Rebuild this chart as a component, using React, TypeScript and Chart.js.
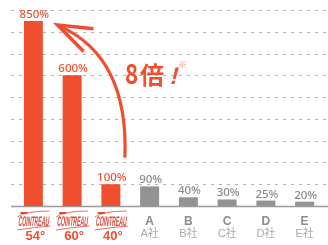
import React, { useEffect, useRef } from "react";
import { Chart, registerables } from "chart.js";

Chart.register(...registerables);

const categories = ["54°", "60°", "40°", "A", "B", "C", "D", "E"];
const subLabels = ["", "", "", "A社", "B社", "C社", "D社", "E社"];
const isBrand = [true, true, true, false, false, false, false, false];
const values = [850, 600, 100, 90, 40, 30, 25, 20];
const valueLabels = ["850%", "600%", "100%", "90%", "40%", "30%", "25%", "20%"];
const gridTicks = [100, 200, 300, 400, 500, 600, 700, 800, 900];
const callout = "8倍";

const ORANGE = "#f04f2f";
const GRAY_BAR = "#939393";
const GRAY_TEXT = "#8c8c8c";
const GRAY_LIGHT = "#aaaaaa";
const FONT = "'Liberation Sans', 'Noto Sans CJK JP', sans-serif";

const decor = {
  id: "decor",
  beforeDatasetsDraw(chart: any) {
    const { ctx, scales } = chart;
    const y = scales.y;
    const ca = chart.chartArea;
    ctx.save();
    ctx.strokeStyle = "#b5b5b5";
    ctx.lineWidth = 1.2;
    ctx.setLineDash([3, 5]);
    for (const t of gridTicks) {
      const py = Math.round(y.getPixelForValue(t)) + 0.5;
      ctx.beginPath();
      ctx.moveTo(ca.left - 3, py);
      ctx.lineTo(chart.width, py);
      ctx.stroke();
    }
    ctx.setLineDash([]);
    ctx.strokeStyle = "#9a9a9a";
    ctx.lineWidth = 1.5;
    const by = y.getPixelForValue(0) + 0.5;
    ctx.beginPath();
    ctx.moveTo(ca.left - 3, by);
    ctx.lineTo(chart.width, by);
    ctx.stroke();
    ctx.restore();
  },
  afterDatasetsDraw(chart: any) {
    const { ctx, scales } = chart;
    const x = scales.x;
    const y = scales.y;
    const meta = chart.getDatasetMeta(0);
    ctx.save();
    // value labels
    ctx.textAlign = "center";
    ctx.textBaseline = "alphabetic";
    ctx.font = `500 11.5px 'Noto Sans', ${FONT}`;
    meta.data.forEach((bar: any, i: number) => {
      ctx.fillStyle = isBrand[i] ? ORANGE : GRAY_TEXT;
      ctx.fillText(valueLabels[i], bar.x + 1, bar.y - 3);
    });
    // x labels
    const base = y.getPixelForValue(0);
    categories.forEach((c, i) => {
      const cx = x.getPixelForValue(i);
      if (isBrand[i]) {
        // logo
        ctx.save();
        ctx.translate(cx, base + 20);
        ctx.transform(1, 0, -0.12, 1, 0, 0);
        ctx.font = `bold 9px ${FONT}`;
        const w = ctx.measureText("COINTREAU").width;
        ctx.scale(31 / w, 1.55);
        ctx.fillStyle = "#e0483a";
        ctx.textAlign = "center";
        ctx.textBaseline = "alphabetic";
        ctx.fillText("COINTREAU", 0, 0);
        ctx.restore();
        ctx.save();
        ctx.strokeStyle = "#e0483a";
        ctx.lineWidth = 0.8;
        ctx.beginPath();
        ctx.moveTo(cx - 16, base + 11);
        ctx.quadraticCurveTo(cx - 8, base + 5, cx + 16, base + 5);
        ctx.stroke();
        ctx.beginPath();
        ctx.moveTo(cx - 16, base + 24);
        ctx.quadraticCurveTo(cx + 2, base + 21, cx + 17, base + 20);
        ctx.stroke();
        ctx.fillStyle = "#e0483a";
        ctx.fillRect(cx - 13, base + 6, 7, 2);
        ctx.restore();
        ctx.fillStyle = ORANGE;
        ctx.font = `bold 13px ${FONT}`;
        ctx.textAlign = "center";
        ctx.fillText(c, cx + 2, base + 34);
      } else {
        ctx.fillStyle = GRAY_TEXT;
        ctx.font = `bold 12px ${FONT}`;
        ctx.textAlign = "center";
        ctx.fillText(c, cx, base + 19);
        ctx.fillStyle = GRAY_LIGHT;
        ctx.font = `11px ${FONT}`;
        ctx.fillText(subLabels[i], cx, base + 31);
      }
    });
    // arrow
    const x0 = x.getPixelForValue(0);
    const x2 = x.getPixelForValue(2);
    const sx = x2 + 14, sy = y.getPixelForValue(222);
    const qx = x2 + 18, qy = y.getPixelForValue(680);
    const ex = x0 + 27, ey = y.getPixelForValue(825);
    ctx.strokeStyle = ORANGE;
    ctx.lineWidth = 3.2;
    ctx.lineCap = "butt";
    ctx.beginPath();
    ctx.moveTo(sx, sy);
    ctx.quadraticCurveTo(qx, qy, ex, ey);
    ctx.stroke();
    const ang = Math.atan2(ey - qy, ex - qx);
    const back = ang + Math.PI;
    const tx = ex - 3 * Math.cos(back), ty = ey - 3 * Math.sin(back);
    ctx.lineWidth = 3.6;
    ctx.beginPath();
    ctx.moveTo(tx + 36 * Math.cos(back - 0.33), ty + 36 * Math.sin(back - 0.33));
    ctx.lineTo(tx, ty);
    ctx.lineTo(tx + 37 * Math.cos(back + 0.36), ty + 37 * Math.sin(back + 0.36));
    ctx.stroke();
    // callout text
    const txx = x2 + 14;
    const tyy = y.getPixelForValue(560);
    ctx.fillStyle = ORANGE;
    ctx.textAlign = "left";
    ctx.textBaseline = "alphabetic";
    ctx.save();
    ctx.translate(txx, tyy);
    ctx.scale(0.8, 1);
    ctx.font = `bold 28px 'Noto Sans CJK JP', sans-serif`;
    ctx.fillText(callout[0], 0, 0);
    const w8 = ctx.measureText(callout[0]).width;
    ctx.restore();
    ctx.font = `bold 24px 'Noto Sans CJK JP', sans-serif`;
    const bx = txx + w8 * 0.8 + 2;
    ctx.fillText(callout[1], bx, tyy);
    const wb = ctx.measureText(callout[1]).width;
    ctx.save();
    ctx.translate(bx + wb + 5, tyy);
    ctx.transform(1, 0, -0.25, 1, 0, 0);
    ctx.font = `bold 24px ${FONT}`;
    ctx.fillText("!", 0, 0);
    ctx.restore();
    ctx.fillStyle = "#f4806a";
    ctx.font = `9px 'Noto Sans CJK JP', sans-serif`;
    ctx.fillText("※", bx + wb + 14, tyy - 16);
    ctx.restore();
  },
};

export default function App() {
  const ref = useRef<HTMLCanvasElement>(null);
  useEffect(() => {
    document.body.style.margin = "0";
    const chart = new Chart(ref.current!, {
      type: "bar",
      data: {
        labels: categories,
        datasets: [
          {
            data: values,
            backgroundColor: values.map((_, i) => (isBrand[i] ? ORANGE : GRAY_BAR)),
            barPercentage: 0.49,
            categoryPercentage: 1,
          },
        ],
      },
      options: {
        responsive: false,
        animation: false,
        events: [],
        layout: { padding: { left: 14, right: 4, top: 10, bottom: 39 } },
        plugins: { legend: { display: false }, tooltip: { enabled: false } },
        scales: {
          x: {
            display: false,
            grid: { display: false },
          },
          y: {
            display: false,
            min: 0,
            max: 900,
          },
        },
      },
      plugins: [decor],
    });
    return () => chart.destroy();
  }, []);
  return (
    <div style={{ width: 328, height: 245 }}>
      <canvas ref={ref} width={328} height={245} />
    </div>
  );
}
